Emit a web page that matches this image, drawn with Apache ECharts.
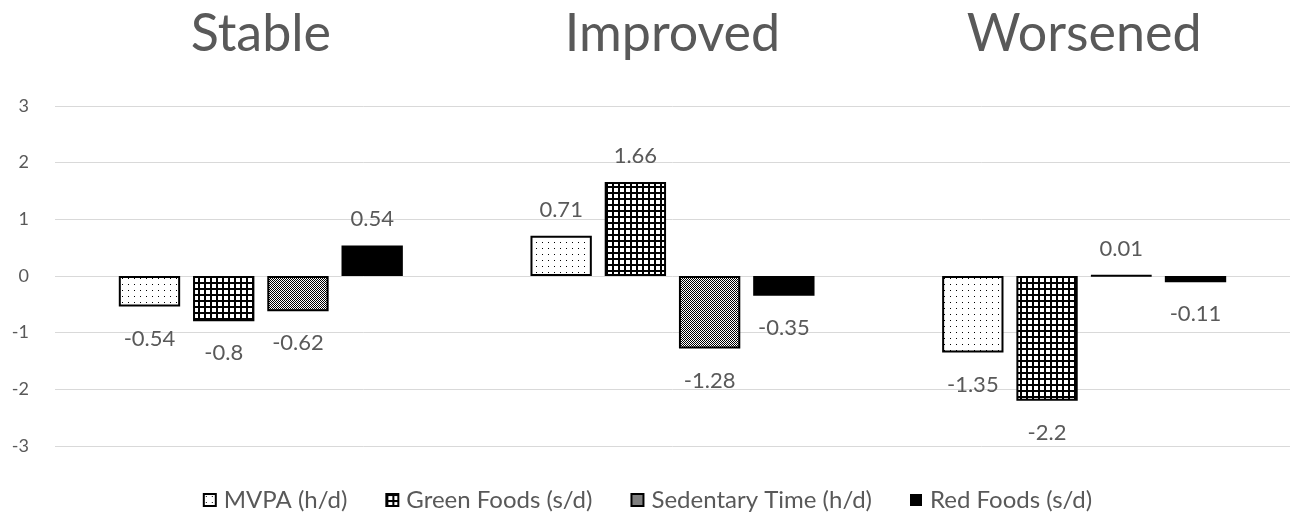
<!DOCTYPE html>
<html>
<head>
<meta charset="utf-8">
<script src="https://cdn.jsdelivr.net/npm/echarts@6/dist/echarts.min.js"></script>
<style>
  html, body { margin: 0; padding: 0; background: #fff; }
  #chart { width: 1295px; height: 521px; }
</style>
</head>
<body>
<div id="chart"></div>
<script>
// Change scores by trajectory group
const categories = ['Stable', 'Improved', 'Worsened'];
const seriesNames = ['MVPA (h/d)', 'Green Foods (s/d)', 'Sedentary Time (h/d)', 'Red Foods (s/d)'];
const mvpa = [-0.54, 0.71, -1.35];
const greenFoods = [-0.8, 1.66, -2.2];
const sedentaryTime = [-0.62, -1.28, 0.01];
const redFoods = [0.54, -0.35, -0.11];
const yTicks = [-3, -2, -1, 0, 1, 2, 3];

// Fill patterns drawn on small tiles
function tile(size, draw) {
  const c = document.createElement('canvas');
  c.width = size; c.height = size;
  const ctx = c.getContext('2d');
  ctx.fillStyle = '#fff';
  ctx.fillRect(0, 0, size, size);
  draw(ctx);
  return { image: c, repeat: 'repeat' };
}
const dotFill = tile(6, ctx => {
  ctx.fillStyle = '#000';
  ctx.fillRect(2, 2, 1, 1);
});
const gridFill = tile(6, ctx => {
  ctx.fillStyle = '#000';
  ctx.fillRect(0, 0, 6, 2);
  ctx.fillRect(0, 0, 2, 6);
});
const checkFill = tile(2, ctx => {
  ctx.fillStyle = '#000';
  ctx.fillRect(0, 0, 1, 1);
  ctx.fillRect(1, 1, 1, 1);
});
const fills = [dotFill, gridFill, checkFill, '#000'];
const values = [mvpa, greenFoods, sedentaryTime, redFoods];

const textColor = '#595959';
const fontFamily = 'Lato, "Open Sans", sans-serif';

const series = seriesNames.map((name, i) => ({
  name,
  type: 'bar',
  barGap: '21%',
  barCategoryGap: '31%',
  itemStyle: { color: fills[i], borderColor: '#000', borderWidth: i === 3 ? 0 : 2 },
  data: values[i].map(v => ({
    value: v,
    label: {
      show: true,
      position: v < 0 ? 'bottom' : 'top',
      distance: v < 0 ? 21 : 15,
      color: textColor,
      fontSize: 22,
      fontFamily
    }
  }))
}));

const chart = echarts.init(document.getElementById('chart'));
chart.setOption({
  animation: false,
  backgroundColor: '#fff',
  grid: { left: 55, right: 5, top: 106, bottom: 75 },
  legend: {
    bottom: 4,
    left: 'center',
    itemWidth: 12,
    itemHeight: 12,
    itemGap: 38,
    icon: 'rect',
    textStyle: { color: textColor, fontSize: 24, fontFamily, padding: [0, 0, 0, 3] },
    data: seriesNames
  },
  xAxis: {
    type: 'category',
    position: 'top',
    data: categories,
    axisLine: { show: false },
    axisTick: { show: false },
    axisLabel: { color: textColor, fontSize: 52, fontFamily, margin: 46 }
  },
  yAxis: {
    type: 'value',
    min: yTicks[0],
    max: yTicks[yTicks.length - 1],
    interval: 1,
    axisLine: { show: false },
    axisTick: { show: false },
    axisLabel: { color: textColor, fontSize: 18, fontFamily, margin: 26 },
    splitLine: { lineStyle: { color: '#d9d9d9', width: 1 } }
  },
  series
});
</script>
</body>
</html>
